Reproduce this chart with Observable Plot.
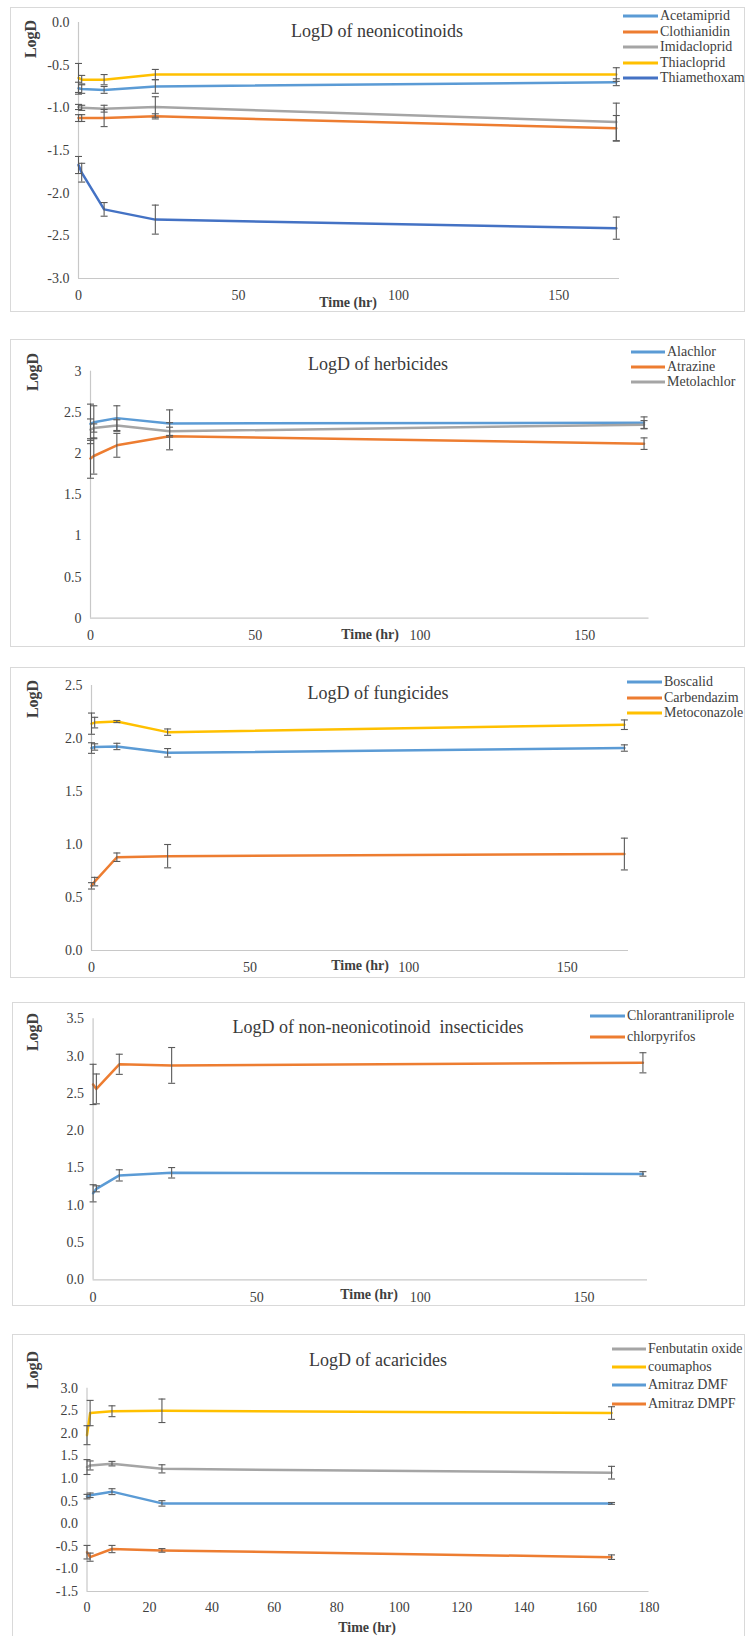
<!DOCTYPE html>
<html>
<head>
<meta charset="utf-8">
<script src="https://cdn.jsdelivr.net/npm/d3@7"></script>
<script src="https://cdn.jsdelivr.net/npm/@observablehq/plot@0.6"></script>
<style>
  html, body { margin: 0; padding: 0; background: #fff; }
  #root { position: relative; width: 745px; height: 1636px; overflow: hidden; font-family: 'Liberation Serif', 'Times New Roman', serif; color: #404040; }
  .frame { position: absolute; border: 1px solid #d9d9d9; box-sizing: border-box; }
  .abs { position: absolute; white-space: pre; line-height: 1; font-family: 'Liberation Serif', 'Times New Roman', serif; }
  .ctr { transform: translate(-50%, -50%); }
  .title { font-size: 18px; color: #3a3a3a; }
  .ylab { font-size: 16px; font-weight: bold; color: #404040; transform: translate(-50%, -50%) rotate(-90deg); }
  .xlab { font-size: 14px; font-weight: bold; color: #404040; }
  .leg { font-size: 14px; color: #404040; transform: translateY(-50%); }
  .legline { position: absolute; height: 3px; transform: translateY(-50%); }
  svg { position: absolute; left: 0; }
  svg text { font-family: 'Liberation Serif', 'Times New Roman', serif !important; font-size: 14px; fill: #404040; }
</style>
</head>
<body>
<div id="root"></div>
<script>
// ---------- DATA ----------
const times = [0, 1, 8, 24, 168];

// Panel 1: neonicotinoids
const neoNames = ["Acetamiprid", "Clothianidin", "Imidacloprid", "Thiacloprid", "Thiamethoxam"];
const neoMean = [
  [-0.77, -0.78, -0.79, -0.75, -0.70],
  [-1.12, -1.12, -1.12, -1.10, -1.24],
  [-0.99, -1.00, -1.01, -0.99, -1.165],
  [-0.65, -0.67, -0.67, -0.61, -0.61],
  [-1.67, -1.76, -2.19, -2.31, -2.41]
];
const neoSD = [
  [0.07, 0.05, 0.04, 0.08, 0.04],
  [0.04, 0.04, 0.10, 0.03, 0.15],
  [0.03, 0.03, 0.04, 0.12, 0.22],
  [0.17, 0.05, 0.06, 0.06, 0.08],
  [0.10, 0.11, 0.08, 0.17, 0.13]
];
const neoYTicks = [-3.0, -2.5, -2.0, -1.5, -1.0, -0.5, 0.0];

// Panel 2: herbicides
const herbNames = ["Alachlor", "Atrazine", "Metolachlor"];
const herbMean = [
  [2.36, 2.38, 2.43, 2.365, 2.375],
  [1.94, 1.97, 2.10, 2.21, 2.12],
  [2.29, 2.31, 2.34, 2.27, 2.35]
];
const herbSD = [
  [0.24, 0.20, 0.15, 0.165, 0.07],
  [0.24, 0.22, 0.145, 0.165, 0.07],
  [0.13, 0.05, 0.07, 0.05, 0.05]
];
const herbYTicks = [0, 0.5, 1, 1.5, 2, 2.5, 3];

// Panel 3: fungicides
const fungNames = ["Boscalid", "Carbendazim", "Metoconazole"];
const fungMean = [
  [1.91, 1.92, 1.925, 1.865, 1.91],
  [0.61, 0.65, 0.88, 0.89, 0.91],
  [2.14, 2.15, 2.16, 2.06, 2.13]
];
const fungSD = [
  [0.05, 0.03, 0.03, 0.04, 0.03],
  [0.03, 0.04, 0.04, 0.11, 0.15],
  [0.10, 0.05, 0.01, 0.03, 0.045]
];
const fungYTicks = [0.0, 0.5, 1.0, 1.5, 2.0, 2.5];

// Panel 4: non-neonicotinoid insecticides
const insNames = ["Chlorantraniliprole", "chlorpyrifos"];
const insMean = [
  [1.16, 1.22, 1.40, 1.435, 1.42],
  [2.62, 2.56, 2.89, 2.875, 2.91]
];
const insSD = [
  [0.115, 0.04, 0.075, 0.07, 0.03],
  [0.27, 0.20, 0.135, 0.24, 0.135]
];
const insYTicks = [0.0, 0.5, 1.0, 1.5, 2.0, 2.5, 3.0, 3.5];

// Panel 5: acaricides
const acaNames = ["Fenbutatin oxide", "coumaphos", "Amitraz DMF", "Amitraz DMPF"];
const acaMean = [
  [1.255, 1.29, 1.33, 1.215, 1.13],
  [1.96, 2.45, 2.49, 2.50, 2.45],
  [0.60, 0.63, 0.71, 0.45, 0.45],
  [-0.63, -0.74, -0.56, -0.59, -0.74]
];
const acaSD = [
  [0.165, 0.10, 0.05, 0.09, 0.14],
  [0.21, 0.28, 0.12, 0.26, 0.14],
  [0.05, 0.05, 0.065, 0.06, 0.02],
  [0.15, 0.09, 0.08, 0.04, 0.05]
];
const acaYTicks = [-1.5, -1.0, -0.5, 0.0, 0.5, 1.0, 1.5, 2.0, 2.5, 3.0];

const hrTicks = [0, 50, 100, 150];
const hrTicks20 = [0, 20, 40, 60, 80, 100, 120, 140, 160, 180];

// ---------- STYLE ----------
const C = { blue: "#5b9bd5", orange: "#ed7d31", gray: "#a5a5a5", yellow: "#ffc000", dblue: "#4472c4" };
const root = document.getElementById("root");
const fix1 = d => d.toFixed(1);
const cap = { draw(ctx, size) { const r = Math.sqrt(size / Math.PI); ctx.moveTo(-r, 0); ctx.lineTo(r, 0); } };

function el(cls, css, text) {
  const d = document.createElement("div");
  d.className = cls;
  Object.assign(d.style, css);
  if (text != null) d.textContent = text;
  root.appendChild(d);
  return d;
}

function panel(p) {
  el("frame", { left: p.frame[0] + "px", top: p.frame[1] + "px", width: (p.frame[2] - p.frame[0]) + "px", height: (p.frame[3] - p.frame[1]) + "px" });
  const data = p.names.flatMap((n, i) => times.map((t, j) => ({ series: n, t, v: p.mean[i][j], sd: p.sd[i][j] })));
  const chart = Plot.plot({
    width: 745, height: p.H,
    marginLeft: p.m[0], marginRight: p.m[1], marginTop: p.m[2], marginBottom: p.m[3],
    style: { fontFamily: "'Liberation Serif', 'Times New Roman', serif", fontSize: "14px", color: "#404040", background: "transparent", overflow: "visible" },
    x: { domain: [0, p.xMax] },
    y: { domain: [p.yTicks[0], p.yTicks[p.yTicks.length - 1]] },
    color: { domain: p.names, range: p.colors },
    marks: [
      Plot.axisX({ ticks: p.xTicks, tickSize: 0, tickPadding: p.xPad, label: null, tickFormat: d => String(d) }),
      Plot.axisY({ ticks: p.yTicks, tickSize: 0, tickPadding: 9, label: null, tickFormat: p.yFmt }),
      Plot.ruleX([0], { stroke: "#c8c8c8", strokeWidth: 1.2 }),
      Plot.ruleY([p.yTicks[0]], { stroke: "#c8c8c8", strokeWidth: 1.2 }),
      Plot.line(data, { x: "t", y: "v", z: "series", stroke: "series", strokeWidth: 2.5 }),
      Plot.ruleX(data, { x: "t", y1: d => d.v - d.sd, y2: d => d.v + d.sd, stroke: "#5a5a5a", strokeWidth: 1.1 }),
      Plot.dot(data, { x: "t", y: d => d.v - d.sd, symbol: cap, r: 3.5, fill: "none", stroke: "#5a5a5a", strokeWidth: 1.1 }),
      Plot.dot(data, { x: "t", y: d => d.v + d.sd, symbol: cap, r: 3.5, fill: "none", stroke: "#5a5a5a", strokeWidth: 1.1 })
    ]
  });
  chart.style.top = p.top + "px";
  root.appendChild(chart);

  el("abs ctr title", { left: p.titleXY[0] + "px", top: p.titleXY[1] + "px" }, p.title);
  el("abs ylab", { left: p.ylabXY[0] + "px", top: p.ylabXY[1] + "px" }, "LogD");
  el("abs ctr xlab", { left: p.xlabXY[0] + "px", top: p.xlabXY[1] + "px" }, "Time (hr)");
  p.names.forEach((n, i) => {
    const y = p.leg.y0 + i * p.leg.dy;
    el("legline", { left: p.leg.x0 + "px", width: (p.leg.x1 - p.leg.x0) + "px", top: y + "px", background: p.colors[i] });
    el("abs leg", { left: (p.leg.x1 + 2) + "px", top: y + "px" }, n);
  });
}

panel({
  names: neoNames, mean: neoMean, sd: neoSD, yTicks: neoYTicks, yFmt: fix1,
  colors: [C.blue, C.orange, C.gray, C.yellow, C.dblue],
  xTicks: hrTicks, xMax: 169, xPad: 12,
  top: 0, H: 312, m: [78, 126, 22, 34],
  frame: [10, 7, 745, 312],
  title: "LogD of neonicotinoids", titleXY: [377, 31],
  ylabXY: [31, 39], xlabXY: [348, 303],
  leg: { x0: 623, x1: 658, y0: 16, dy: 15.5 }
});

panel({
  names: herbNames, mean: herbMean, sd: herbSD, yTicks: herbYTicks, yFmt: d => String(d),
  colors: [C.blue, C.orange, C.gray],
  xTicks: hrTicks, xMax: 169.5, xPad: 12,
  top: 339, H: 307, m: [90, 96.5, 31.7, 28.3],
  frame: [10, 339, 745, 647],
  title: "LogD of herbicides", titleXY: [378, 364],
  ylabXY: [33, 372], xlabXY: [370, 635],
  leg: { x0: 631, x1: 665, y0: 352, dy: 15 }
});

panel({
  names: fungNames, mean: fungMean, sd: fungSD, yTicks: fungYTicks, yFmt: fix1,
  colors: [C.blue, C.orange, C.yellow],
  xTicks: hrTicks, xMax: 169.3, xPad: 12,
  top: 667, H: 310, m: [91, 117, 18, 27],
  frame: [10, 667, 745, 978],
  title: "LogD of fungicides", titleXY: [378, 693],
  ylabXY: [33, 699], xlabXY: [360, 966],
  leg: { x0: 627, x1: 662, y0: 682.3, dy: 15.5 }
});

panel({
  names: insNames, mean: insMean, sd: insSD, yTicks: insYTicks, yFmt: fix1,
  colors: [C.blue, C.orange],
  xTicks: hrTicks, xMax: 169.4, xPad: 12,
  top: 1002, H: 303, m: [92.6, 98, 16.3, 25.7],
  frame: [12, 1002, 745, 1306],
  title: "LogD of non-neonicotinoid  insecticides", titleXY: [378, 1027],
  ylabXY: [33, 1032], xlabXY: [369, 1295],
  leg: { x0: 590, x1: 625, y0: 1016, dy: 20.7 }
});

panel({
  names: acaNames, mean: acaMean, sd: acaSD, yTicks: acaYTicks, yFmt: fix1,
  colors: [C.gray, C.yellow, C.blue, C.orange],
  xTicks: hrTicks20, xMax: 180, xPad: 11,
  top: 1334, H: 302, m: [86.5, 96.5, 53.7, 45],
  frame: [12, 1334, 745, 1640],
  title: "LogD of acaricides", titleXY: [378, 1360],
  ylabXY: [33, 1370], xlabXY: [367, 1628],
  leg: { x0: 612, x1: 646, y0: 1348.7, dy: 18.3 }
});
</script>
</body>
</html>
